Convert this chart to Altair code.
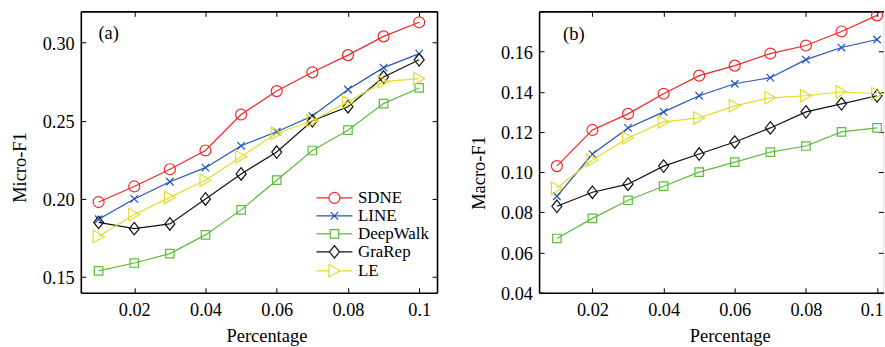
import altair as alt
import pandas as pd

# Training percentage of labelled nodes
percentages = [0.01, 0.02, 0.03, 0.04, 0.05, 0.06, 0.07, 0.08, 0.09, 0.10]

methods = ["SDNE", "LINE", "DeepWalk", "GraRep", "LE"]
colors = ["#f02828", "#2156b8", "#5cbc3c", "#111111", "#e2dc2c"]

# Micro-F1 per method
sdne_micro = [0.198, 0.208, 0.219, 0.231, 0.254, 0.269, 0.281, 0.292, 0.304, 0.313]
line_micro = [0.187, 0.200, 0.211, 0.220, 0.234, 0.243, 0.253, 0.270, 0.284, 0.293]
deepwalk_micro = [0.154, 0.159, 0.165, 0.177, 0.193, 0.212, 0.231, 0.244, 0.261, 0.271]
grarep_micro = [0.185, 0.181, 0.184, 0.200, 0.216, 0.230, 0.250, 0.259, 0.278, 0.289]
le_micro = [0.176, 0.190, 0.201, 0.212, 0.227, 0.242, 0.250, 0.262, 0.275, 0.277]

# Macro-F1 per method
sdne_macro = [0.103, 0.121, 0.129, 0.139, 0.148, 0.153, 0.159, 0.163, 0.170, 0.178]
line_macro = [0.088, 0.109, 0.122, 0.130, 0.138, 0.144, 0.147, 0.156, 0.162, 0.166]
deepwalk_macro = [0.067, 0.077, 0.086, 0.093, 0.100, 0.105, 0.110, 0.113, 0.120, 0.122]
grarep_macro = [0.083, 0.090, 0.094, 0.103, 0.109, 0.115, 0.122, 0.130, 0.134, 0.138]
le_macro = [0.092, 0.106, 0.117, 0.125, 0.127, 0.133, 0.137, 0.138, 0.140, 0.139]

x_ticks = [0.02, 0.04, 0.06, 0.08, 0.1]
micro_ticks = [0.15, 0.20, 0.25, 0.30]
macro_ticks = [0.04, 0.06, 0.08, 0.10, 0.12, 0.14, 0.16]

FONT = "Liberation Serif"
INWARD = {"expr": "-5"}  # ticks drawn into the plot area
LW = 1.2
FRAME = 1.6
MSIZE = 100  # symbol unit = sqrt(100)/2 = 5 px

# Open marker outlines (unit square scaled by 5 px)
marker_paths = [
    "M1.1,0A1.1,1.1,0,1,1,-1.1,0A1.1,1.1,0,1,1,1.1,0Z",
    "M-0.75,-0.75L0.75,0.75M-0.75,0.75L0.75,-0.75",
    "M-0.85,-0.85H0.85V0.85H-0.85Z",
    "M0,-1.25L1,0L0,1.25L-1,0Z",
    "M-1.1,-1.25L1.1,0L-1.1,1.25Z",
]
half_widths = [1.1, 0.0, 0.85, 1.0, 1.1]
legend_paths = [
    p + (f"M-3.6,0H-{h}M{h},0H3.6" if h > 0 else "M-3.6,0H3.6")
    for p, h in zip(marker_paths, half_widths)
]


def long_table(series):
    rows = []
    for name, vals in zip(methods, series):
        for x, v in zip(percentages, vals):
            rows.append({"series": name, "pct": x, "value": v})
    return pd.DataFrame(rows)


def panel(df, width, x_max, right_frame, last_shift, y_domain, y_ticks, y_title,
          tag, tag_x, tag_y, title_x, ytitle_y, leg_x, leg_y):
    xs = alt.Scale(domain=[0.005, x_max], nice=False, zero=False)
    ys = alt.Scale(domain=y_domain, nice=False, zero=False)

    common = dict(domain=True, domainColor="black", domainWidth=FRAME,
                  ticks=True, tickSize=INWARD, tickColor="black", tickWidth=1,
                  grid=False)
    x_label_opts = {}
    if last_shift:
        # the right edge of the panel cuts through the last tick label
        last = "datum.value > 0.095"
        x_label_opts = dict(
            labelAlign={"condition": {"test": last, "value": "right"}, "value": "center"},
            labelOffset={"condition": {"test": last, "value": last_shift}, "value": 0},
        )
    x_main = alt.Axis(orient="bottom", values=x_ticks, format=".2~f",
                      labelPadding=13.8, labelFont=FONT, labelFontSize=18.3,
                      labelColor="black",
                      title="Percentage", titleFont=FONT, titleFontSize=18.5,
                      titleFontWeight="normal", titleColor="black",
                      titleX=title_x, titleY=48.5, titleBaseline="alphabetic",
                      titleAlign="center", **x_label_opts, **common)
    y_main = alt.Axis(orient="left", values=y_ticks, format=".2f",
                      labelPadding=11.7, labelFont=FONT, labelFontSize=18.3,
                      labelColor="black", labelOffset=1.5, title=y_title,
                      titleFont=FONT, titleFontSize=18.5, titleFontWeight="normal",
                      titleColor="black", titleAngle=270, titleX=-55, titleY=ytitle_y,
                      titleBaseline="alphabetic", titleAlign="center", **common)
    x_top = alt.Axis(orient="top", values=x_ticks, labels=False, title=None, **common)
    y_right = alt.Axis(orient="right", values=y_ticks, labels=False, title=None,
                       **{**common, "domain": right_frame})

    layers = []
    for i, (name, color, path) in enumerate(zip(methods, colors, marker_paths)):
        first = i == 0
        base = alt.Chart(df).transform_filter(alt.datum.series == name)
        line = base.mark_line(color=color, strokeWidth=LW, clip=True).encode(
            x=alt.X("pct:Q", scale=xs, axis=x_main if first else None),
            y=alt.Y("value:Q", scale=ys, axis=y_main if first else None),
        )
        pts = base.mark_point(shape=path, size=MSIZE, filled=False, color=color,
                              strokeWidth=LW, opacity=1, clip=True).encode(
            x=alt.X("pct:Q", scale=xs, axis=x_top if first else None),
            y=alt.Y("value:Q", scale=ys, axis=y_right if first else None),
        )
        layers += [line, pts]

    legend = alt.Legend(orient="none", legendX=leg_x, legendY=leg_y, title=None,
                        labelFont=FONT, labelFontSize=17, labelColor="black",
                        symbolSize=MSIZE, symbolStrokeWidth=LW, labelOffset=15,
                        rowPadding=0, padding=0, symbolOffset=0)
    key = alt.Chart(df).transform_filter("false").mark_point(
        filled=False, size=MSIZE, strokeWidth=LW, opacity=1
    ).encode(
        shape=alt.Shape("series:N", scale=alt.Scale(domain=methods, range=legend_paths),
                        legend=legend),
        color=alt.Color("series:N", scale=alt.Scale(domain=methods, range=colors),
                        legend=legend),
    )
    layers.append(key)

    label = alt.Chart(pd.DataFrame({"tag": [tag]})).mark_text(
        align="left", baseline="alphabetic", font=FONT, fontSize=18.5, color="black"
    ).encode(text="tag:N", x=alt.value(tag_x), y=alt.value(tag_y))
    layers.append(label)

    return alt.layer(*layers).resolve_axis(x="independent", y="independent").properties(
        width=width, height=282
    )


micro_df = long_table([sdne_micro, line_micro, deepwalk_micro, grarep_micro, le_micro])
macro_df = long_table([sdne_macro, line_macro, deepwalk_macro, grarep_macro, le_macro])

left = panel(micro_df, 357, 0.105, True, 0, [0.14, 0.32], micro_ticks, "Micro-F1",
             "(a)", 17.7, 27.4, 186, 156, 245.7, 178.5)
right = panel(macro_df, 345, 0.10175, False, 6.0, [0.04, 0.18], macro_ticks, "Macro-F1",
              "(b)", 24, 29, 191, 161.5, 240.4, 175.5)

chart = alt.hconcat(left, right, spacing=102.3, bounds="flush").properties(
    padding={"left": 10, "top": 10, "right": 0, "bottom": 0}
).configure_view(stroke=None).configure(font=FONT).configure_axis(
    labelFont=FONT, titleFont=FONT
).configure_legend(labelFont=FONT)

chart.save("out.html", embed_options={"renderer": "svg", "actions": False})
